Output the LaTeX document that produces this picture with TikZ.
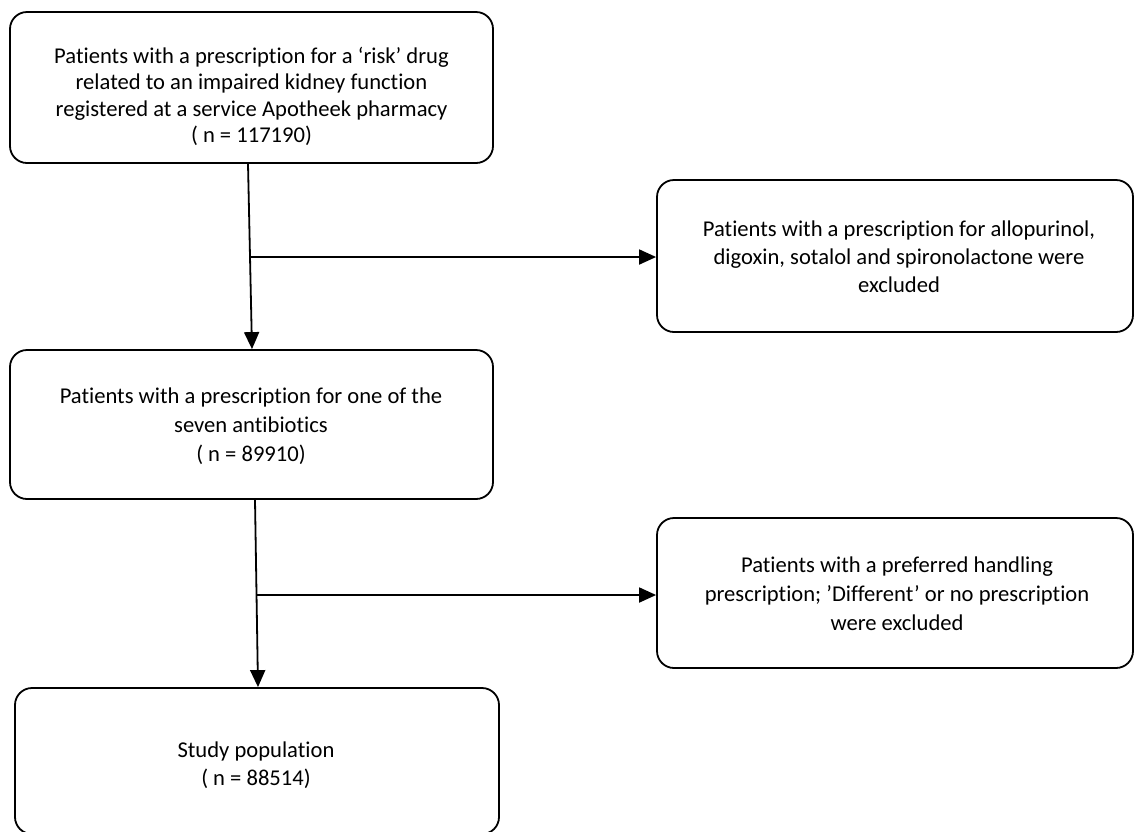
\documentclass[tikz,border=0pt]{standalone}
\usepackage{fontspec}
\setmainfont{Carlito}[Ligatures={NoCommon,NoDiscretionary,NoContextual}]
\usetikzlibrary{arrows.meta}
\begin{document}
\begin{tikzpicture}[x=1pt,y=-1pt,
  box/.style={draw, line width=1.8pt, rounded corners=17pt, inner sep=0pt},
  txt/.style={align=center, font=\fontsize{22.6}{28}\selectfont, inner sep=0pt},
  arr/.style={line width=1.8pt, -{Triangle[length=17pt,width=15pt]}}]
\useasboundingbox (0,0) rectangle (1134,831);
% boxes
\node[box, minimum width=483pt, minimum height=151pt] (b1) at (251.5,87.5) {};
\node[box, minimum width=476pt, minimum height=152pt] (b2) at (895,256) {};
\node[box, minimum width=483pt, minimum height=149pt] (b3) at (251.5,424.5) {};
\node[box, minimum width=476pt, minimum height=150pt] (b4) at (895,593) {};
\node[box, minimum width=484pt, minimum height=146pt] (b5) at (257,761) {};
% texts
\node[txt, font=\fontsize{22.6}{26.5}\selectfont] (t1) at (251.5,96.5) {Patients with a prescription for a ‘risk’ drug\\related to an impaired kidney function\\registered at a service Apotheek pharmacy\\( n = 117190)};
\node[txt] (t2) at (899,257) {Patients with a prescription for allopurinol,\\digoxin, sotalol and spironolactone were\\excluded};
\node[txt, font=\fontsize{22.6}{29}\selectfont] (t3) at (251,426) {Patients with a prescription for one of the\\seven antibiotics\\( n = 89910)};
\node[txt, font=\fontsize{22.6}{29}\selectfont] (t4) at (897,594) {Patients with a preferred handling\\prescription; ’Different’ or no prescription\\were excluded};
\node[txt] (t5) at (256,765) {Study population\\( n = 88514)};
% connectors
\draw[arr] ([xshift=-3.5pt]b1.south) -- ([xshift=0.5pt]b3.north);
\coordinate (j1) at (250.5,257);
\draw[arr] (j1) -- (b2.west |- j1);
\draw[arr] ([xshift=3.5pt]b3.south) -- ([xshift=1pt]b5.north);
\coordinate (j2) at (256.5,595);
\draw[arr] (j2) -- (b4.west |- j2);
\end{tikzpicture}
\end{document}
